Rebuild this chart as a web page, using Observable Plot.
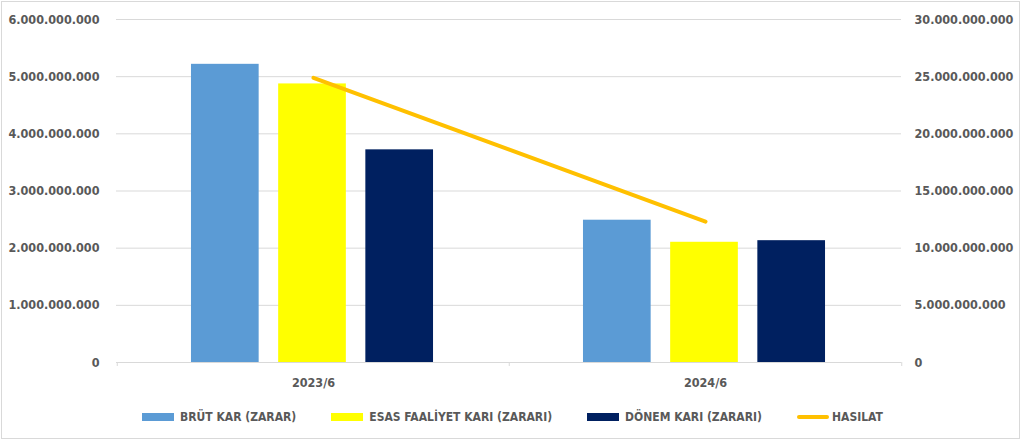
<!DOCTYPE html>
<html>
<head>
<meta charset="utf-8">
<script src="https://cdn.jsdelivr.net/npm/d3@7"></script>
<script src="https://cdn.jsdelivr.net/npm/@observablehq/plot@0.6"></script>
<style>
  html, body { margin: 0; padding: 0; background: #fff; }
  #page { position: relative; width: 1024px; height: 442px; overflow: hidden; background: #fff;
    font-family: "DejaVu Sans Condensed", "DejaVu Sans", sans-serif; font-weight: bold; color: #595959; }
  #frame { position: absolute; left: 1px; top: 1px; width: 1017px; height: 436px; border: 1px solid #d9d9d9; }
  #chart { position: absolute; left: 0; top: 0; }
  #legend { position: absolute; left: 142px; top: 410px; display: flex; align-items: center; font-size: 12px; white-space: nowrap; }
  .item { display: flex; align-items: center; margin-right: 35px; }
  .sw { width: 32px; height: 8px; margin-right: 6px; }
  .ln { width: 32px; height: 4px; border-radius: 2px; margin-right: 3px; }
</style>
</head>
<body>
<div id="page">
  <div id="frame"></div>
  <div id="chart"></div>
  <div id="legend"></div>
</div>
<script>
// ---- data ----
const periods = ["2023/6", "2024/6"];
const series = ["BRÜT KAR (ZARAR)", "ESAS FAALİYET KARI (ZARARI)", "DÖNEM KARI (ZARARI)"];
const brutKar = [5216000000, 2489000000];
const esasFaaliyetKari = [4873000000, 2103000000];
const donemKari = [3720000000, 2131000000];
const hasilatLabel = "HASILAT";
const hasilat = [24900000000, 12320000000];
const leftTicks = [0, 1000000000, 2000000000, 3000000000, 4000000000, 5000000000, 6000000000];
const rightTicks = [0, 5000000000, 10000000000, 15000000000, 20000000000, 25000000000, 30000000000];
const colors = ["#5B9BD5", "#FFFF00", "#002060"];
const lineColor = "#FFC000";

// ---- helpers ----
const locale = d3.formatLocale({decimal: ",", thousands: ".", grouping: [3], currency: ["", ""]});
const fmt = locale.format(",d");
const ratio = leftTicks[leftTicks.length - 1] / rightTicks[rightTicks.length - 1];

const W = 1024, H = 395;
const mL = 116, mR = 123, mT = 19, mB = 33;
const bw = (W - mL - mR) / periods.length;
const inner = d3.scaleBand().domain(series).range([0, bw]).paddingInner(0.218).paddingOuter(0.86);

const seriesValues = [brutKar, esasFaaliyetKari, donemKari];
const barMarks = series.map((s, i) => {
  const rows = periods.map((p, j) => ({period: p, value: seriesValues[i][j], series: s}));
  const left = inner(s);
  return Plot.barY(rows, {
    x: "period", y: "value", fill: colors[i],
    insetLeft: left - 1, insetRight: bw - left - inner.bandwidth() + 1
  });
});

const lineRows = periods.map((p, j) => ({period: p, value: hasilat[j] * ratio}));
const font = "DejaVu Sans Condensed, DejaVu Sans, sans-serif";
const textStyle = {fontSize: 12.5, fill: "#595959", fontWeight: "bold", fontFamily: font};

const plot = Plot.plot({
  width: W, height: H,
  marginLeft: mL, marginRight: mR, marginTop: mT, marginBottom: mB,
  style: {fontFamily: font, background: "transparent", overflow: "visible"},
  x: {domain: periods, padding: 0, axis: null},
  y: {domain: [0, leftTicks[leftTicks.length - 1]], axis: null},
  marks: [
    Plot.gridY(leftTicks, {stroke: "#d9d9d9", strokeOpacity: 1, strokeWidth: 1}),
    Plot.ruleY([0], {stroke: "#d9d9d9", strokeWidth: 1}),
    Plot.axisX({ticks: periods, tickSize: 4, tickFormat: () => "", dx: -bw / 2, stroke: "#d9d9d9", strokeOpacity: 1, label: null}),
    Plot.axisX({ticks: periods.slice(-1), tickSize: 4, tickFormat: () => "", dx: bw / 2, stroke: "#d9d9d9", strokeOpacity: 1, label: null}),
    ...barMarks,
    Plot.line(lineRows, {x: "period", y: "value", stroke: lineColor, strokeWidth: 4, strokeLinecap: "round"}),
    Plot.axisY(leftTicks, {anchor: "left", tickSize: 0, tickPadding: 17, tickFormat: fmt, label: null, ...textStyle}),
    Plot.axisY(rightTicks.map(v => v * ratio), {anchor: "right", tickSize: 0, tickPadding: 13,
      tickFormat: d => fmt(Math.round(d / ratio)), label: null, ...textStyle}),
    Plot.axisX({tickSize: 0, tickPadding: 16, label: null, ...textStyle})
  ]
});
document.getElementById("chart").appendChild(plot);

// ---- legend ----
const legend = document.getElementById("legend");
series.forEach((s, i) => {
  const it = document.createElement("div"); it.className = "item";
  const sw = document.createElement("div"); sw.className = "sw"; sw.style.background = colors[i];
  const tx = document.createElement("span"); tx.textContent = s;
  it.appendChild(sw); it.appendChild(tx); legend.appendChild(it);
});
{
  const it = document.createElement("div"); it.className = "item";
  const sw = document.createElement("div"); sw.className = "ln"; sw.style.background = lineColor;
  const tx = document.createElement("span"); tx.textContent = hasilatLabel;
  it.appendChild(sw); it.appendChild(tx); legend.appendChild(it);
}
</script>
</body>
</html>
